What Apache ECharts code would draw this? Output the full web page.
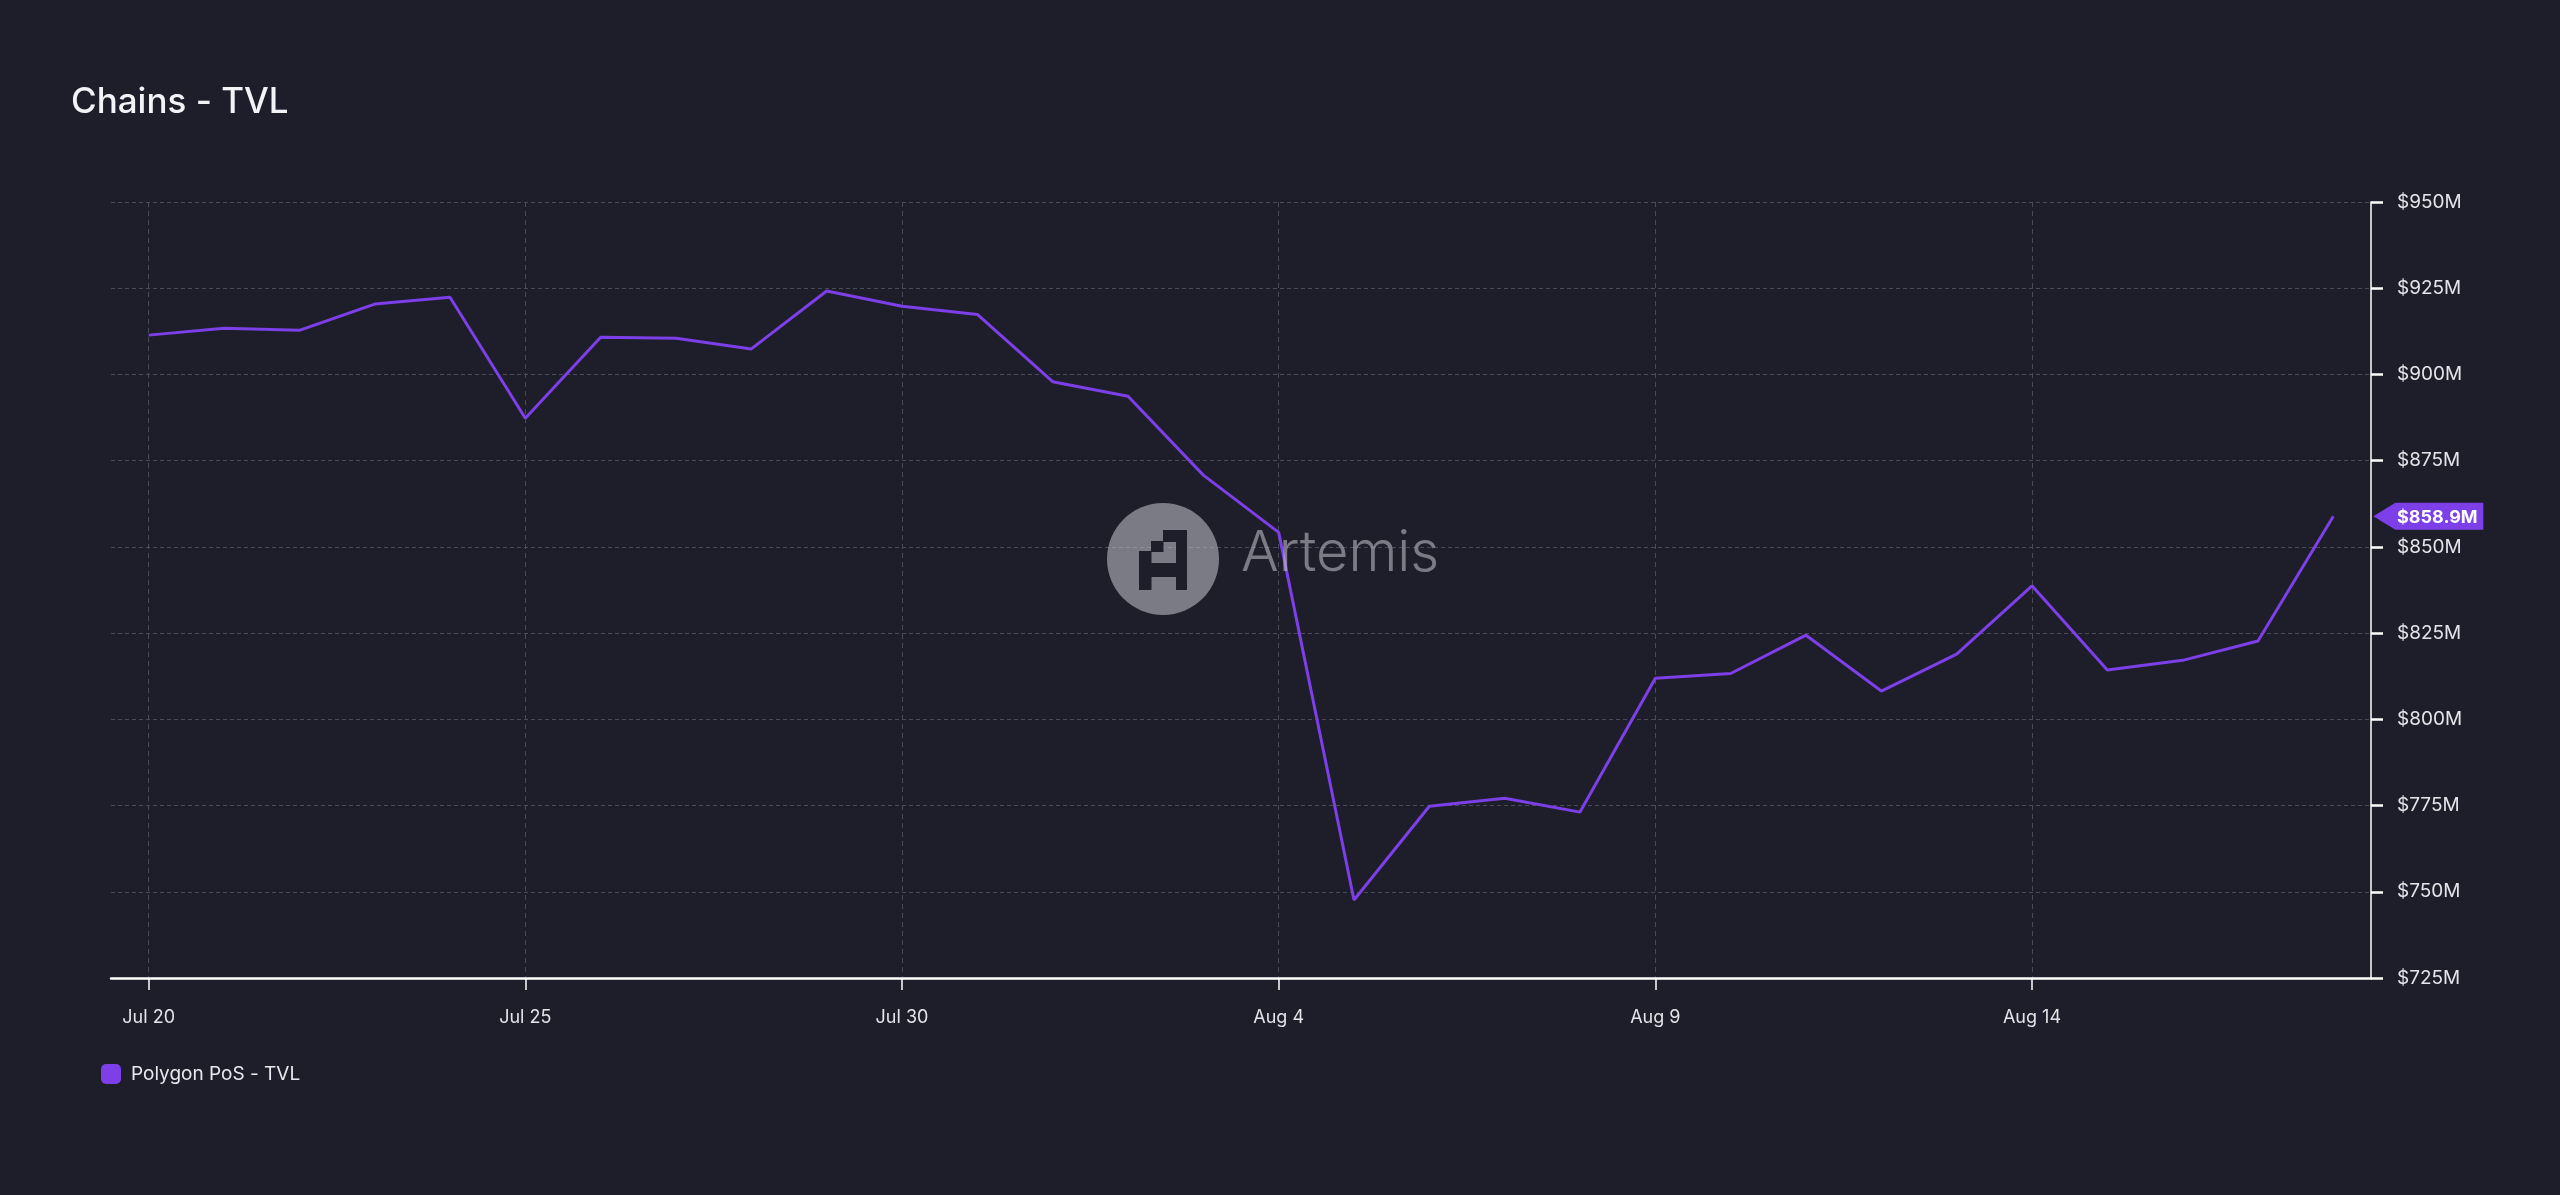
<!DOCTYPE html>
<html>
<head>
<meta charset="utf-8">
<script src="https://cdn.jsdelivr.net/npm/echarts@6/dist/echarts.min.js"></script>
<style>
html,body{margin:0;padding:0;background:#1d1e29;}
#chart{width:2560px;height:1195px;}
</style>
</head>
<body>
<div id="chart"></div>
<script>
const titleText = 'Chains - TVL';
const seriesName = 'Polygon PoS - TVL';
const categories = ['Jul 20','Jul 21','Jul 22','Jul 23','Jul 24','Jul 25','Jul 26','Jul 27','Jul 28','Jul 29','Jul 30','Jul 31',
  'Aug 1','Aug 2','Aug 3','Aug 4','Aug 5','Aug 6','Aug 7','Aug 8','Aug 9','Aug 10','Aug 11','Aug 12','Aug 13','Aug 14','Aug 15','Aug 16','Aug 17','Aug 18'];
const tvlValues = [911.4, 913.4, 912.8, 920.4, 922.4, 887.3, 910.8, 910.5, 907.4, 924.2, 919.8, 917.4,
  897.9, 893.7, 870.8, 854.2, 747.6, 774.8, 777.1, 773.1, 811.9, 813.3, 824.4, 808.2, 818.9, 838.7, 814.3, 817.1, 822.7, 858.9];
const yMin = 725, yMax = 950, yStep = 25;
const lastLabel = '$858.9M';

const purple = '#7c3fe8';
const bg = '#1d1e29';
const chart = echarts.init(document.getElementById('chart'), null, {renderer: 'canvas'});
const lastIdx = tvlValues.length - 1;

function glyphRect(x, y, w, h) {
  return {type: 'rect', z: 60, silent: true, shape: {x: x, y: y, width: w, height: h}, style: {fill: bg}};
}

chart.setOption({
  backgroundColor: bg,
  animation: false,
  textStyle: {fontFamily: 'Inter'},
  title: {
    text: titleText,
    left: 66, top: 80,
    textStyle: {color: '#f2f2f7', fontSize: 35, fontWeight: 500, fontFamily: 'Inter'}
  },
  legend: {
    left: 96, top: 1059,
    icon: 'roundRect',
    itemWidth: 20, itemHeight: 20,
    textStyle: {color: '#e8e8ee', fontSize: 19, fontFamily: 'Inter', padding: [0,0,0,5]},
    data: [{name: seriesName, itemStyle: {color: purple}}]
  },
  grid: {left: 111, right: 189, top: 202, bottom: 217, containLabel: false},
  xAxis: {
    type: 'category',
    data: categories,
    boundaryGap: true,
    axisLine: {show: true, lineStyle: {color: '#ffffff', width: 2.5}},
    axisTick: {show: true, interval: 4, alignWithLabel: true, length: 12, lineStyle: {color: '#ffffff', width: 1.5}},
    axisLabel: {interval: 4, color: '#e4e4ea', fontSize: 18, margin: 31, fontFamily: 'Inter'},
    splitLine: {show: true, interval: 4, alignWithLabel: true, lineStyle: {color: '#4a4b58', type: [5,4], width: 1}}
  },
  yAxis: {
    type: 'value',
    position: 'right',
    min: yMin, max: yMax, interval: yStep,
    axisLine: {show: true, lineStyle: {color: '#ffffff', width: 1.5}},
    axisTick: {show: true, length: 12, lineStyle: {color: '#ffffff', width: 2.5}},
    axisLabel: {color: '#e4e4ea', fontSize: 19, margin: 26, padding: [4,0,0,0], fontFamily: 'Inter', formatter: v => '$' + v + 'M'},
    splitLine: {show: true, lineStyle: {color: '#4a4b58', type: [4,3], width: 1.2}}
  },
  series: [{
    name: seriesName,
    type: 'line',
    data: tvlValues,
    showSymbol: false,
    symbol: 'none',
    lineStyle: {color: purple, width: 3},
    itemStyle: {color: purple},
    z: 2,
    markPoint: {
      silent: true,
      symbol: 'path://M0,13.5 L22,0 L110,0 L110,27 L22,27 Z',
      symbolKeepAspect: false,
      symbolSize: [110, 27],
      symbolOffset: [95, 0],
      itemStyle: {color: purple},
      label: {show: true, position: 'inside', offset: [9, 1], color: '#ffffff', fontSize: 18, fontWeight: 'bold', fontFamily: 'Inter', formatter: lastLabel},
      data: [{coord: [lastIdx, tvlValues[lastIdx]]}]
    }
  }],
  graphic: [
    {type: 'circle', shape: {cx: 1163, cy: 559, r: 56}, style: {fill: 'rgba(200,200,210,0.55)'}, z: 50, silent: true},
    glyphRect(1163, 530, 24, 12),
    glyphRect(1176, 530, 11, 60),
    glyphRect(1151, 541, 12.5, 11),
    glyphRect(1139, 551, 12.5, 39),
    glyphRect(1139, 563, 48, 14),
    {type: 'text', left: 1241, top: 526, z: 50, silent: true,
      style: {text: 'Artemis', fill: 'rgba(200,200,210,0.55)', fontSize: 56, fontWeight: 300, fontFamily: 'Inter'}}
  ]
});
</script>
</body>
</html>
